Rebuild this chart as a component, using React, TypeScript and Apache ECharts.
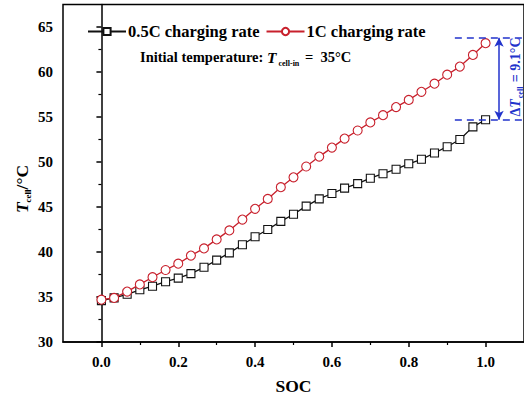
import React, { useEffect, useRef } from "react";
import * as echarts from "echarts";

const soc = [0, 0.033, 0.067, 0.1, 0.133, 0.167, 0.2, 0.233, 0.267, 0.3, 0.333, 0.367, 0.4, 0.433, 0.467, 0.5, 0.533, 0.567, 0.6, 0.633, 0.667, 0.7, 0.733, 0.767, 0.8, 0.833, 0.867, 0.9, 0.933, 0.967, 1.0];
const tempHalfC = [34.6, 34.9, 35.3, 35.8, 36.2, 36.7, 37.1, 37.6, 38.3, 39.1, 39.9, 40.8, 41.7, 42.5, 43.4, 44.2, 45.1, 45.9, 46.5, 47.1, 47.6, 48.2, 48.7, 49.2, 49.8, 50.3, 51.0, 51.7, 52.5, 53.9, 54.7];
const tempOneC = [34.7, 34.9, 35.6, 36.4, 37.2, 38.0, 38.7, 39.6, 40.4, 41.4, 42.4, 43.6, 44.8, 45.9, 47.2, 48.3, 49.5, 50.6, 51.6, 52.6, 53.5, 54.4, 55.2, 56.1, 56.9, 57.8, 58.7, 59.7, 60.6, 61.9, 63.2];
const seriesNames = ["0.5C charging rate", "1C charging rate"];
const xMajorTicks = [0, 0.2, 0.4, 0.6, 0.8, 1.0];
const xMinorTicks = [0.1, 0.3, 0.5, 0.7, 0.9];
const yMajorTicks = [30, 35, 40, 45, 50, 55, 60, 65];
const yMinorTicks = [32.5, 37.5, 42.5, 47.5, 52.5, 57.5, 62.5];
const deltaTop = 63.8;
const deltaBottom = 54.7;
const deltaX = 1.035;
const dashStartX = 0.92;
const dashEndX = 1.1;

const FONT = "'Liberation Serif', 'Times New Roman', serif";
const BLUE = "#2233cc";
const RED = "#c8202c";

export default function App() {
  const ref = useRef<HTMLDivElement>(null);
  useEffect(() => {
    if (!ref.current) return;
    const chart = echarts.init(ref.current, undefined, { renderer: "svg" });
    const axisLine = { show: true, lineStyle: { color: "#000", width: 1.5 } };
    const labelStyle = { color: "#000", fontFamily: FONT, fontWeight: "bold" as const, fontSize: 15 };
    const dashStyle = { color: BLUE, width: 1.5, type: [7, 5] as any };
    chart.setOption({
      animation: false,
      backgroundColor: "#fff",
      grid: { left: 63, top: 4.5, width: 462.5, height: 337.5, show: true, borderColor: "#000", borderWidth: 1.5, backgroundColor: "transparent" },
      legend: {
        data: seriesNames,
        left: 82,
        top: 18,
        itemWidth: 38,
        itemHeight: 9,
        itemGap: 6,
        textStyle: { ...labelStyle, fontSize: 16.5, padding: [0, 0, 0, -3] },
      },
      xAxis: [
        {
          type: "value",
          min: -0.1,
          max: 1.1,
          position: "bottom",
          axisLine,
          axisTick: { show: true, length: 5, customValues: xMajorTicks, lineStyle: { color: "#000", width: 1.5 } },
          axisLabel: { ...labelStyle, margin: 12, customValues: xMajorTicks, formatter: (v: number) => v.toFixed(1) },
          splitLine: { show: false },
          name: "SOC",
          nameLocation: "middle",
          nameGap: 35,
          nameTextStyle: { ...labelStyle, fontSize: 17.5 },
        },
        {
          type: "value",
          min: -0.1,
          max: 1.1,
          position: "bottom",
          axisLine: { show: false },
          axisTick: { show: true, length: 3, customValues: xMinorTicks, lineStyle: { color: "#000", width: 1.2 } },
          axisLabel: { show: false },
          splitLine: { show: false },
        },
      ],
      yAxis: [
        {
          type: "value",
          min: 30,
          max: 67.5,
          position: "left",
          axisLine,
          axisTick: { show: true, length: 5, customValues: yMajorTicks, lineStyle: { color: "#000", width: 1.5 } },
          axisLabel: { ...labelStyle, margin: 10, customValues: yMajorTicks },
          splitLine: { show: false },
        },
        {
          type: "value",
          min: 30,
          max: 67.5,
          position: "left",
          axisLine: { show: false },
          axisTick: { show: true, length: 3, customValues: yMinorTicks, lineStyle: { color: "#000", width: 1.2 } },
          axisLabel: { show: false },
          splitLine: { show: false },
        },
      ],
      series: [
        {
          name: seriesNames[0],
          type: "line",
          data: soc.map((s, i) => [s, tempHalfC[i]]),
          symbol: "rect",
          symbolSize: 8,
          showAllSymbol: true,
          lineStyle: { color: "#111", width: 1.3 },
          itemStyle: { color: "#fff", borderColor: "#111", borderWidth: 1.1 },
          z: 3,
        },
        {
          name: seriesNames[1],
          type: "line",
          data: soc.map((s, i) => [s, tempOneC[i]]),
          symbol: "circle",
          symbolSize: 9,
          showAllSymbol: true,
          lineStyle: { color: RED, width: 1.3 },
          itemStyle: { color: "#fff", borderColor: RED, borderWidth: 1.1 },
          z: 4,
        },
        {
          name: "annotation",
          type: "line",
          data: [],
          silent: true,
          markLine: {
            silent: true,
            animation: false,
            label: { show: false },
            data: [
              [
                { coord: [dashStartX, deltaTop], symbol: "none", lineStyle: dashStyle },
                { coord: [dashEndX, deltaTop], symbol: "none" },
              ],
              [
                { coord: [dashStartX, deltaBottom], symbol: "none", lineStyle: dashStyle },
                { coord: [dashEndX, deltaBottom], symbol: "none" },
              ],
              [
                { coord: [deltaX, deltaTop], symbol: "arrow", symbolSize: [7, 9], lineStyle: { color: BLUE, width: 1.5, type: "solid" } },
                { coord: [deltaX, deltaBottom], symbol: "arrow", symbolSize: [7, 9] },
              ],
            ],
          },
        },
      ],
      graphic: [
        {
          type: "text",
          x: 140,
          y: 57,
          style: {
            text: "Initial temperature: {i|T}{s|cell-in}{n| =  35°C}",
            verticalAlign: "middle",
            fill: "#000",
            font: `bold 14.5px ${FONT}`,
            rich: {
              i: { fontFamily: FONT, fontWeight: "bold", fontStyle: "italic", fontSize: 15.5, fill: "#000" },
              s: { fontFamily: FONT, fontWeight: "bold", fontSize: 8, fill: "#000", padding: [12, 2, 0, 2] },
              n: { fontFamily: FONT, fontWeight: "bold", fontSize: 14.5, fill: "#000" },
            },
          },
        },
        {
          type: "text",
          x: 22,
          y: 189,
          rotation: Math.PI / 2,
          style: {
            text: "{i|T}{s|cell}{n|/°C}",
            align: "center",
            verticalAlign: "middle",
            rich: {
              i: { fontFamily: FONT, fontWeight: "bold", fontStyle: "italic", fontSize: 17.5, fill: "#000" },
              s: { fontFamily: FONT, fontWeight: "bold", fontSize: 9, fill: "#000", padding: [12, 0, 0, 0] },
              n: { fontFamily: FONT, fontWeight: "bold", fontSize: 17.5, fill: "#000" },
            },
          },
        },
        {
          type: "text",
          x: 515,
          y: 77,
          rotation: Math.PI / 2,
          style: {
            text: "{n|Δ}{i|T}{s|cell}{n| = 9.1°C}",
            align: "center",
            verticalAlign: "middle",
            rich: {
              i: { fontFamily: FONT, fontWeight: "bold", fontStyle: "italic", fontSize: 14, fill: BLUE },
              s: { fontFamily: FONT, fontWeight: "bold", fontSize: 8, fill: BLUE, padding: [10, 1, 0, 1] },
              n: { fontFamily: FONT, fontWeight: "bold", fontSize: 14, fill: BLUE },
            },
          },
        },
      ],
    });
    return () => chart.dispose();
  }, []);
  return <div ref={ref} style={{ position: "fixed", left: 0, top: 0, width: 524, height: 400 }} />;
}
